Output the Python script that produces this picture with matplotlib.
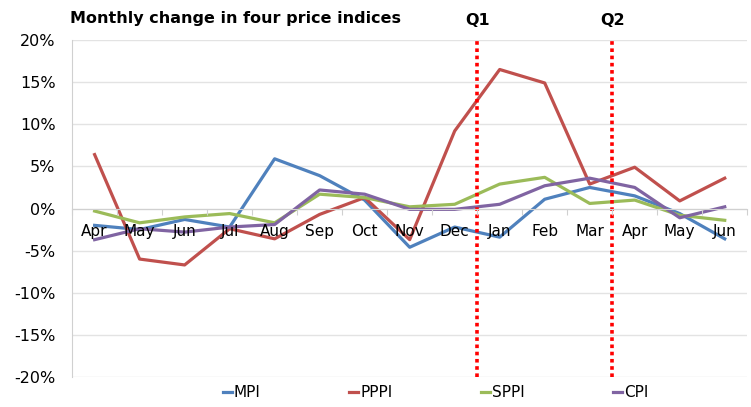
import numpy as np
import matplotlib
matplotlib.use('Agg')
from matplotlib import pyplot as plt

months = ['Apr', 'May', 'Jun', 'Jul', 'Aug', 'Sep', 'Oct', 'Nov', 'Dec',
          'Jan', 'Feb', 'Mar', 'Apr', 'May', 'Jun']
mpi = [-2.0, -2.5, -1.3, -2.2, 5.9, 3.9, 1.0, -4.6, -2.2, -3.4, 1.1, 2.5, 1.5, -0.6, -3.6]
pppi = [6.4, -6.0, -6.7, -2.4, -3.6, -0.7, 1.3, -3.7, 9.2, 16.5, 14.9, 2.9, 4.9, 0.9, 3.6]
sppi = [-0.3, -1.7, -1.0, -0.6, -1.7, 1.7, 1.3, 0.2, 0.5, 2.9, 3.7, 0.6, 1.0, -0.8, -1.4]
cpi = [-3.7, -2.4, -2.8, -2.2, -1.9, 2.2, 1.7, -0.1, -0.1, 0.5, 2.7, 3.6, 2.5, -1.1, 0.2]
quarters = ['Q1', 'Q2']
quarter_pos = [8.5, 11.5]

colors = {'MPI': '#4F81BD', 'PPPI': '#C0504D', 'SPPI': '#9BBB59', 'CPI': '#8064A2'}

fig = plt.figure(figsize=(7.51, 4.07), dpi=100)
ax = fig.add_axes([0.096, 0.0737, 0.899, 0.828])

x = np.arange(len(months))
for name, vals in [('MPI', mpi), ('PPPI', pppi), ('SPPI', sppi), ('CPI', cpi)]:
    ax.plot(x, vals, color=colors[name], lw=2.3, label=name, solid_joinstyle='round')

ax.set_xlim(-0.5, len(months) - 0.5)
ax.set_ylim(-20, 20)
ax.set_yticks(np.arange(-20, 21, 5))
ax.set_yticklabels(['%d%%' % v for v in range(-20, 21, 5)], fontsize=11.5)
ax.yaxis.grid(True, color='#e3e3e3', lw=1)
ax.set_axisbelow(True)
ax.tick_params(axis='y', length=0, pad=12)

# category axis crossing at zero, labels drawn over the lines
ax.spines['bottom'].set_position(('data', 0))
ax.spines['bottom'].set_color('#d0d0d0')
ax.spines['left'].set_color('#d0d0d0')
ax.spines['top'].set_visible(False)
ax.spines['right'].set_visible(False)
ax.set_xticks(np.arange(-0.5, len(months), 1))
ax.set_xticklabels([])
ax.tick_params(axis='x', which='major', length=4, color='#d0d0d0')
ax.set_xticks(x, minor=True)
ax.set_xticklabels(months, minor=True, fontsize=11)
ax.tick_params(axis='x', which='minor', length=0, pad=11)
ax.xaxis.set_zorder(5)

for q, pos in zip(quarters, quarter_pos):
    ax.axvline(pos, color='#FF0000', lw=2.6, ls=(0, (1, 1)), clip_on=False)
    ax.text(pos, 1.035, q, transform=ax.get_xaxis_transform(), ha='center',
            va='bottom', fontsize=11.5, fontweight='bold')

fig.text(0.093, 0.955, 'Monthly change in four price indices', fontsize=11.5,
         fontweight='bold', va='center')

leg = fig.legend(loc='center', bbox_to_anchor=(0.58, 0.035), ncol=4, frameon=False,
                 fontsize=11, handlelength=0.6, handletextpad=0.1, columnspacing=5.8)

fig.savefig('out.png', dpi=100)
